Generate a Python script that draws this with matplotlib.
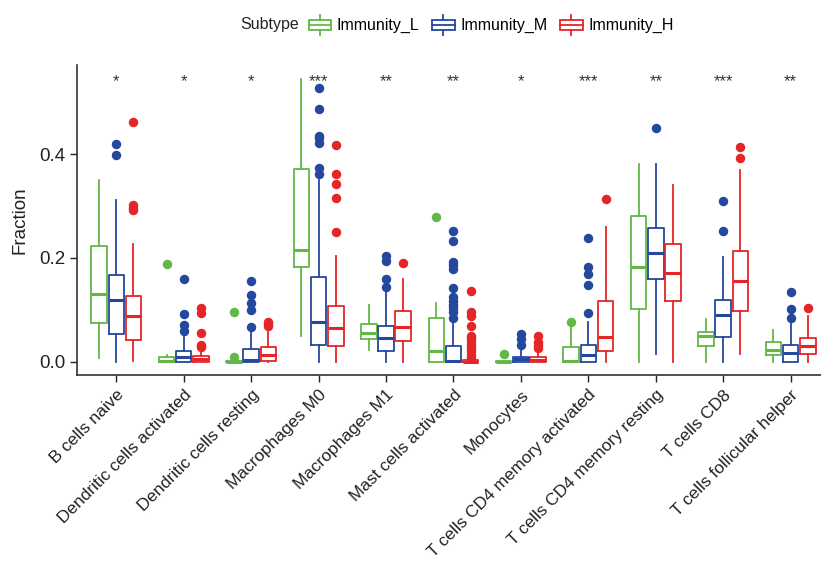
import numpy as np
import matplotlib
matplotlib.use('Agg')
import matplotlib.pyplot as plt
from matplotlib.legend_handler import HandlerBase
from matplotlib.patches import Rectangle
from matplotlib.lines import Line2D

plt.rcParams['font.family'] = ['Liberation Sans', 'DejaVu Sans']

cells = ['B cells naive', 'Dendritic cells activated', 'Dendritic cells resting',
         'Macrophages M0', 'Macrophages M1', 'Mast cells activated', 'Monocytes',
         'T cells CD4 memory activated', 'T cells CD4 memory resting',
         'T cells CD8', 'T cells follicular helper']
subtypes = ['Immunity_L', 'Immunity_M', 'Immunity_H']
colors = ['#62b847', '#23489e', '#e52528']
stars = ['*', '*', '*', '***', '**', '**', '*', '***', '**', '***', '**']

# whisker low, q1, median, q3, whisker high
summ_L = [[0.007, 0.074, 0.131, 0.222, 0.350],
          [0.0, 0.0, 0.002, 0.009, 0.013],
          [0.0, 0.0, 0.0, 0.001, 0.002],
          [0.049, 0.183, 0.215, 0.372, 0.544],
          [0.022, 0.044, 0.055, 0.072, 0.110],
          [0.0, 0.0, 0.021, 0.085, 0.114],
          [0.0, 0.0, 0.0, 0.001, 0.002],
          [0.0, 0.0, 0.002, 0.028, 0.068],
          [0.0, 0.101, 0.183, 0.281, 0.380],
          [0.0, 0.030, 0.049, 0.058, 0.083],
          [0.0, 0.013, 0.023, 0.039, 0.062]]
summ_M = [[0.0, 0.054, 0.119, 0.167, 0.311],
          [0.0, 0.0, 0.009, 0.020, 0.048],
          [0.0, 0.0, 0.003, 0.025, 0.060],
          [0.0, 0.033, 0.076, 0.163, 0.350],
          [0.0, 0.020, 0.045, 0.069, 0.138],
          [0.0, 0.0, 0.001, 0.031, 0.077],
          [0.0, 0.0, 0.005, 0.010, 0.024],
          [0.0, 0.0, 0.013, 0.032, 0.076],
          [0.015, 0.159, 0.209, 0.257, 0.380],
          [0.0, 0.048, 0.090, 0.119, 0.201],
          [0.0, 0.0, 0.016, 0.032, 0.079]]
summ_H = [[0.001, 0.042, 0.089, 0.126, 0.226],
          [0.0, 0.0, 0.005, 0.012, 0.026],
          [0.0, 0.001, 0.013, 0.028, 0.062],
          [0.0, 0.030, 0.065, 0.107, 0.204],
          [0.0, 0.040, 0.067, 0.097, 0.159],
          [0.0, 0.0, 0.0, 0.003, 0.006],
          [0.0, 0.0, 0.004, 0.009, 0.022],
          [0.0, 0.021, 0.047, 0.118, 0.260],
          [0.0, 0.118, 0.170, 0.227, 0.341],
          [0.015, 0.097, 0.156, 0.213, 0.369],
          [0.0, 0.015, 0.031, 0.046, 0.089]]

out_L = [[], [0.188], [0.010, 0.096], [], [], [0.278], [0.015], [0.076], [], [], []]
out_M = [[0.399, 0.419],
         [0.060, 0.070, 0.092, 0.160],
         [0.067, 0.100, 0.113, 0.128, 0.156],
         [0.362, 0.374, 0.422, 0.430, 0.434, 0.487, 0.528],
         [0.144, 0.159, 0.195, 0.204],
         [0.085, 0.095, 0.103, 0.110, 0.118, 0.124, 0.142, 0.179, 0.186, 0.192, 0.233, 0.252],
         [0.033, 0.043, 0.054],
         [0.094, 0.147, 0.169, 0.183, 0.238],
         [0.451],
         [0.252, 0.310],
         [0.085, 0.102, 0.135]]
out_H = [[0.292, 0.297, 0.302, 0.462],
         [0.028, 0.033, 0.055, 0.093, 0.103],
         [0.068, 0.073, 0.077],
         [0.249, 0.315, 0.343, 0.362, 0.418],
         [0.191],
         [0.008, 0.014, 0.020, 0.026, 0.033, 0.040, 0.045, 0.050, 0.068, 0.089, 0.095, 0.137],
         [0.027, 0.033, 0.039, 0.049],
         [0.313],
         [],
         [0.393, 0.413],
         [0.104]]


class BoxKey(HandlerBase):
    def create_artists(self, legend, orig_handle, xdescent, ydescent,
                       width, height, fontsize, trans):
        c = orig_handle.get_color()
        x0, y0 = -xdescent, -ydescent
        cx, cy = x0 + width / 2, y0 + height / 2
        bw, bh = width * 0.95, height * 0.62
        arts = [Rectangle((cx - bw / 2, cy - bh / 2), bw, bh, fill=False,
                          edgecolor=c, lw=1.3, transform=trans),
                Line2D([cx - bw / 2, cx + bw / 2], [cy, cy], color=c, lw=1.3, transform=trans),
                Line2D([cx, cx], [cy + bh / 2, y0 + height * 1.05], color=c, lw=1.3, transform=trans),
                Line2D([cx, cx], [cy - bh / 2, y0 - height * 0.05], color=c, lw=1.3, transform=trans)]
        return arts


fig = plt.figure(figsize=(8.21, 5.67), dpi=100)
ax = fig.add_axes([0.094, 0.339, 0.906, 0.546])

x = np.arange(len(cells))
offsets = [-0.255, 0.0, 0.255]
for summ, outs, off, col in zip([summ_L, summ_M, summ_H], [out_L, out_M, out_H], offsets, colors):
    stats = [dict(whislo=s[0], q1=s[1], med=s[2], q3=s[3], whishi=s[4], fliers=o)
             for s, o in zip(summ, outs)]
    ax.bxp(stats, positions=x + off, widths=0.23, showcaps=False,
           boxprops=dict(color=col, lw=1.3),
           whiskerprops=dict(color=col, lw=1.3),
           medianprops=dict(color=col, lw=2.2),
           flierprops=dict(marker='o', markerfacecolor=col, markeredgecolor=col, markersize=5.8),
           manage_ticks=False)

for xi, s in zip(x, stars):
    ax.text(xi, 0.540, s, ha='center', va='center', fontsize=12, color='#333333')

ax.set_xlim(-0.58, 10.45)
ax.set_ylim(-0.025, 0.571)
ax.set_yticks([0.0, 0.2, 0.4])
ax.set_yticklabels(['0.0', '0.2', '0.4'])
ax.set_xticks(x)
ax.set_xticklabels(cells, rotation=45, ha='right', va='top', rotation_mode='anchor')
ax.tick_params(colors='#222222', length=5, width=1)
ax.tick_params(axis='y', labelsize=13.5)
ax.tick_params(axis='x', labelsize=12.4, pad=4)
ax.set_ylabel('Fraction', fontsize=13.5, color='#222222', labelpad=8)
for side in ['top', 'right']:
    ax.spines[side].set_visible(False)
for side in ['left', 'bottom']:
    ax.spines[side].set_color('#333333')
    ax.spines[side].set_linewidth(1.2)

handles = [Line2D([], [], color=c) for c in colors]
fig.text(240 / 821, 1 - 25 / 567, 'Subtype', fontsize=11.5, color='#222222', va='center')
fig.legend(handles, subtypes, handler_map={Line2D: BoxKey()}, loc='center left',
           bbox_to_anchor=(308 / 821, 1 - 25 / 567), ncol=3, frameon=False,
           fontsize=11.5, handlelength=1.5, handleheight=1.3, handletextpad=0.3,
           columnspacing=0.75, borderpad=0, borderaxespad=0)

fig.savefig('out.png', dpi=100, facecolor='white')
